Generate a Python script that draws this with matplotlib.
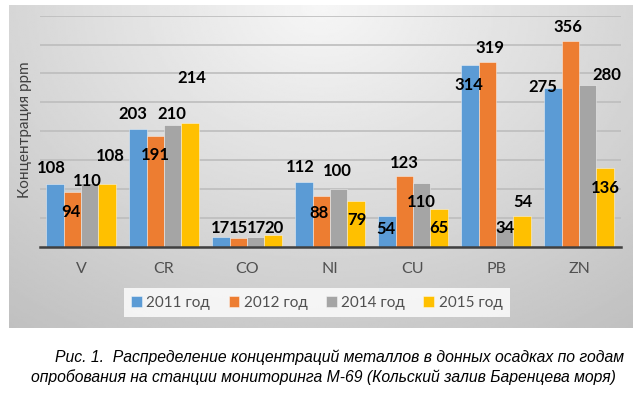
import matplotlib
matplotlib.use("Agg")
import matplotlib.pyplot as plt
import numpy as np

metals = ["V", "CR", "CO", "NI", "CU", "PB", "ZN"]
years = ["2011 год", "2012 год", "2014 год", "2015 год"]
conc_2011 = [108, 203, 17, 112, 54, 314, 275]
conc_2012 = [94, 191, 15, 88, 123, 319, 356]
conc_2014 = [110, 210, 17, 100, 110, 34, 280]
conc_2015 = [108, 214, 20, 79, 65, 54, 136]
series = [conc_2011, conc_2012, conc_2014, conc_2015]
colors = ["#5B9BD5", "#ED7D31", "#A5A5A5", "#FFC000"]

# label offsets (pixels from top-centre of each bar), per series, per metal
label_dx = [
    [-4, -5, 0, -4, -1, -1, -10],
    [-1, 0, 0, -2, 0, 3, -2],
    [-2, -1, 1, -1, 0, 0, 19],
    [3, 2, 1, 1, 0, 1, 0],
]
label_dy = [
    [16, 15, 9, 15, -13, -20, 1],
    [-20, -19, 10, -17, 13, 14, 14],
    [2, 11, 9, 18, -19, -1, 10],
    [28, 45, 7, -19, -19, 14, -20],
]

W, H = 642, 396
fig = plt.figure(figsize=(W / 100, H / 100), dpi=100)
fig.patch.set_facecolor("white")
font = ["Lato", "Open Sans", "DejaVu Sans"]
plt.rcParams["font.family"] = font

# gray gradient panel behind the chart
bg = fig.add_axes([9 / W, 1 - 328 / H, 624 / W, 323 / H])
gx, gy = np.meshgrid(np.linspace(-1, 1, 300), np.linspace(0, 1, 200))
r = np.sqrt((gx * 0.75) ** 2 + gy ** 2)
shade = np.clip(0.965 - 0.17 * r, 0, 1)
bg.imshow(shade, cmap="gray", vmin=0, vmax=1, aspect="auto",
          extent=[0, 1, 0, 1], origin="upper")
bg.set_axis_off()

ax = fig.add_axes([39.5 / W, 1 - 246.7 / H, 581 / W, 231 / H])
ax.patch.set_alpha(0)
x = np.arange(len(metals))
bw = 0.21
for i, vals in enumerate(series):
    pos = x + (i - 1.5) * bw
    bars = ax.bar(pos, vals, bw, color=colors[i], label=years[i],
                  edgecolor=(1, 1, 1, 0.5), linewidth=0.6, zorder=3)
    for j, b in enumerate(bars):
        ax.annotate(str(vals[j]), (b.get_x() + b.get_width() / 2, b.get_height()),
                    xytext=(label_dx[i][j], label_dy[i][j]),
                    textcoords="offset pixels", ha="center", va="center",
                    fontsize=12, fontweight="bold", color="black", zorder=5)

ax.set_xlim(-0.5, len(metals) - 0.5)
ax.set_ylim(0, 400)
ax.set_yticks(np.arange(0, 401, 50))
ax.set_yticklabels([])
ax.tick_params(axis="y", length=0)
ax.tick_params(axis="x", length=0, pad=11, labelsize=11.5, labelcolor="#505050")
ax.set_xticks(x)
ax.set_xticklabels(metals)
ax.grid(axis="y", color="#bdbdbd", linewidth=1.2, zorder=0)
for s in ["top", "right", "left"]:
    ax.spines[s].set_visible(False)
ax.spines["bottom"].set_color("#404040")
ax.spines["bottom"].set_linewidth(1.8)
ax.spines["bottom"].set_zorder(4)

fig.text(25.5 / W, 1 - 130 / H, "Концентрация ppm", rotation=90,
         ha="center", va="center", fontsize=11, color="#404040")

leg = fig.legend(loc="center", bbox_to_anchor=(316.7 / W, 1 - 302.5 / H),
                 ncol=4, fontsize=11, frameon=True, handlelength=0.7,
                 handleheight=0.7, handletextpad=0.3, columnspacing=1.2,
                 borderpad=0.5)
leg.get_frame().set_facecolor((1, 1, 1, 0.35))
leg.get_frame().set_edgecolor("none")
leg.get_frame().set_boxstyle("square", pad=0)
for t in leg.get_texts():
    t.set_color("#505050")

cap = dict(ha="center", va="center", fontsize=11.3, style="italic",
           family=["Liberation Sans", "DejaVu Sans"], color="black")
fig.text(340 / W, 1 - 357 / H,
         "Рис. 1.  Распределение концентраций металлов в донных осадках по годам", **cap)
fig.text(323.5 / W, 1 - 377 / H,
         "опробования на станции мониторинга М-69 (Кольский залив Баренцева моря)", **cap)

fig.savefig("out.png", dpi=100)
